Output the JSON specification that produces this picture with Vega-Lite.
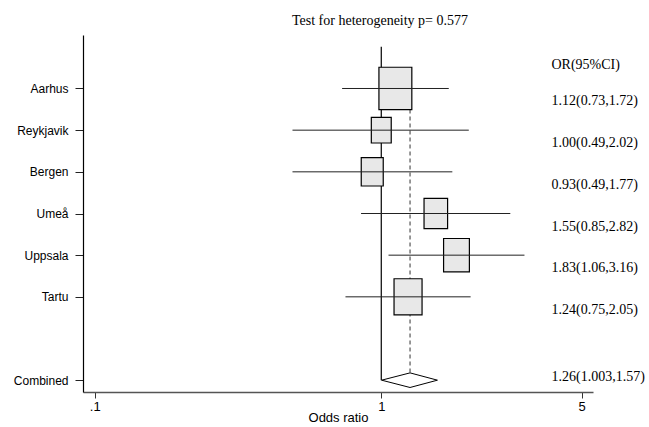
{
  "$schema": "https://vega.github.io/schema/vega-lite/v6.json",
  "autosize": {"type": "none"},
  "padding": {"left": 83, "top": 35, "right": 56, "bottom": 35},
  "width": 510,
  "height": 357,
  "background": "white",
  "config": {"view": {"stroke": null}},
  "title": {
    "text": "Test for heterogeneity p= 0.577",
    "font": "Liberation Serif",
    "fontSize": 14,
    "fontWeight": "normal",
    "color": "black",
    "anchor": "middle",
    "dx": 42,
    "dy": 15,
    "baseline": "alphabetic",
    "offset": 11
  },
  "datasets": {
    "studies": [
      {"study": "Aarhus", "or": 1.12, "lo": 0.73, "hi": 1.72, "w": 27.3, "label": "1.12(0.73,1.72)"},
      {"study": "Reykjavik", "or": 1.00, "lo": 0.49, "hi": 2.02, "w": 10.0, "label": "1.00(0.49,2.02)"},
      {"study": "Bergen", "or": 0.93, "lo": 0.49, "hi": 1.77, "w": 12.2, "label": "0.93(0.49,1.77)"},
      {"study": "Umeå", "or": 1.55, "lo": 0.85, "hi": 2.82, "w": 14.0, "label": "1.55(0.85,2.82)"},
      {"study": "Uppsala", "or": 1.83, "lo": 1.06, "hi": 3.16, "w": 16.8, "label": "1.83(1.06,3.16)"},
      {"study": "Tartu", "or": 1.24, "lo": 0.75, "hi": 2.05, "w": 19.8, "label": "1.24(0.75,2.05)"}
    ],
    "pooled": [
      {"study": "Combined", "or": 1.26, "lo": 1.003, "hi": 1.57, "label": "1.26(1.003,1.57)"}
    ]
  },
  "encoding": {
    "y": {
      "field": "study",
      "type": "nominal",
      "scale": {
        "type": "point",
        "domain": ["_top", "Aarhus", "Reykjavik", "Bergen", "Umeå", "Uppsala", "Tartu", "_gap", "Combined"],
        "padding": 0.2835
      },
      "axis": {
        "title": null,
        "values": ["Aarhus", "Reykjavik", "Bergen", "Umeå", "Uppsala", "Tartu", "Combined"],
        "labelFont": "Liberation Sans",
        "labelFontSize": 12,
        "labelColor": "black",
        "labelPadding": 7,
        "tickSize": 8,
        "tickColor": "#222",
        "domainColor": "black",
        "domainWidth": 1.2,
        "grid": false
      }
    }
  },
  "layer": [
    {
      "data": {"name": "pooled"},
      "mark": {"type": "rule", "color": "black", "strokeWidth": 1.2},
      "encoding": {
        "x": {"datum": 1, "type": "quantitative"},
        "y": {"datum": "_top"},
        "y2": {"datum": "Combined"}
      }
    },
    {
      "data": {"name": "pooled"},
      "mark": {"type": "rule", "color": "#333", "strokeWidth": 1, "strokeDash": [4, 3], "yOffset": -21},
      "encoding": {
        "x": {
          "field": "or",
          "type": "quantitative",
          "scale": {"type": "log", "domain": [0.09103, 5.4803], "nice": false, "zero": false},
          "axis": {
            "title": "Odds ratio",
            "values": [0.1, 1, 5],
            "labelExpr": "datum.value < 0.5 ? '.1' : (datum.value < 2 ? '1' : '5')",
            "labelFont": "Liberation Sans",
            "labelFontSize": 13,
            "labelColor": "black",
            "labelPadding": 2,
            "titleFont": "Liberation Sans",
            "titleFontSize": 13,
            "titleFontWeight": "normal",
            "titleColor": "black",
            "titlePadding": -2,
            "tickSize": 6,
            "tickColor": "#333",
            "domainColor": "#555",
            "domainWidth": 1.5,
            "grid": false
          }
        },
        "y": {"datum": "Aarhus"},
        "y2": {"datum": "Combined"}
      }
    },
    {
      "data": {"name": "studies"},
      "mark": {
        "type": "point",
        "shape": "M-0.775,-1H0.775V1H-0.775Z",
        "filled": true,
        "fill": "#e8e8e8",
        "fillOpacity": 1,
        "stroke": "black",
        "strokeWidth": 1.2
      },
      "encoding": {
        "x": {"field": "or", "type": "quantitative"},
        "size": {"field": "w", "type": "quantitative", "scale": {"domain": [0, 30], "range": [0, 1980]}, "legend": null}
      }
    },
    {
      "data": {"name": "studies"},
      "mark": {"type": "rule", "color": "#222", "strokeWidth": 1},
      "encoding": {
        "x": {"field": "lo", "type": "quantitative"},
        "x2": {"field": "hi"}
      }
    },
    {
      "data": {"name": "pooled"},
      "mark": {
        "type": "point",
        "shape": "M-1,0L0,-0.257L0.964,0L0,0.257Z",
        "filled": true,
        "fill": "white",
        "fillOpacity": 1,
        "stroke": "black",
        "strokeWidth": 1,
        "size": 3226
      },
      "encoding": {
        "x": {"field": "or", "type": "quantitative"}
      }
    },
    {
      "data": {"name": "studies"},
      "mark": {"type": "text", "font": "Liberation Serif", "fontSize": 14, "color": "black", "align": "left", "baseline": "middle", "dy": 13},
      "encoding": {
        "x": {"datum": 3.926, "type": "quantitative"},
        "text": {"field": "label"}
      }
    },
    {
      "data": {"name": "pooled"},
      "mark": {"type": "text", "font": "Liberation Serif", "fontSize": 14, "color": "black", "align": "left", "baseline": "middle", "dy": -3},
      "encoding": {
        "x": {"datum": 3.926, "type": "quantitative"},
        "text": {"field": "label"}
      }
    },
    {
      "data": {"name": "pooled"},
      "mark": {"type": "text", "font": "Liberation Serif", "fontSize": 14, "color": "black", "align": "left", "baseline": "middle", "dy": 18.5},
      "encoding": {
        "x": {"datum": 3.926, "type": "quantitative"},
        "y": {"datum": "_top"},
        "text": {"value": "OR(95%CI)"}
      }
    }
  ]
}
